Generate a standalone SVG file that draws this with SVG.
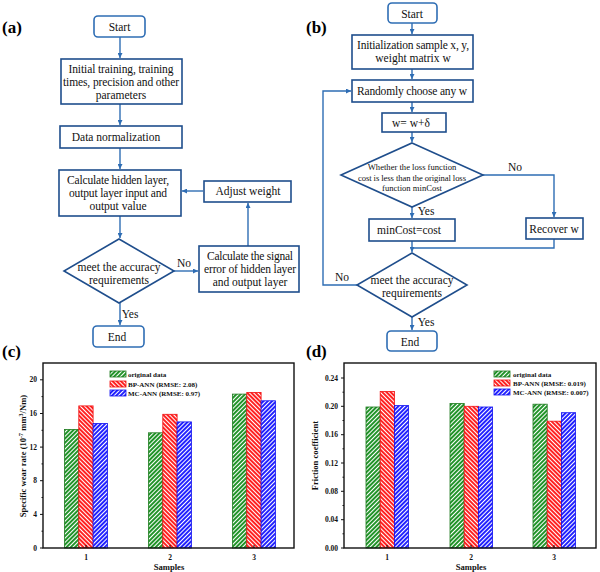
<svg xmlns="http://www.w3.org/2000/svg" width="600" height="572" viewBox="0 0 600 572">
<style>
.t{font-family:"Liberation Serif","Times New Roman",serif;font-size:11.5px;fill:#111;text-anchor:middle}
.ts{font-family:"Liberation Serif","Times New Roman",serif;font-size:8.6px;fill:#111;text-anchor:middle}
.lab{font-family:"Liberation Serif","Times New Roman",serif;font-size:17px;font-weight:bold;fill:#000}
.box{fill:#fff;stroke:#1f4e8c;stroke-width:1.6}
.rbox{fill:#fff;stroke:#2e6db4;stroke-width:1.6}
.con{fill:none;stroke:#2e6db4;stroke-width:1.4}
.ax{font-family:"Liberation Serif","Times New Roman",serif;font-size:7.5px;font-weight:bold;fill:#111}
.axr{text-anchor:end}
.axm{text-anchor:middle}
.frame{fill:none;stroke:#111;stroke-width:1.4}
.tick{stroke:#111;stroke-width:1}
.leg{font-family:"Liberation Serif","Times New Roman",serif;font-size:7px;font-weight:bold;fill:#111}
.axt{font-family:"Liberation Serif","Times New Roman",serif;font-size:8.6px;font-weight:bold;fill:#111;text-anchor:middle}
.g{fill:url(#pg);stroke:#1e7a1e;stroke-width:0.8}
.r{fill:url(#pr);stroke:#f01010;stroke-width:0.8}
.b{fill:url(#pb);stroke:#1010f0;stroke-width:0.8}
</style>
<defs>
<marker id="ah" viewBox="0 0 10 10" refX="10" refY="5" markerWidth="5" markerHeight="5" orient="auto" markerUnits="userSpaceOnUse">
<path d="M0,0 L10,5 L0,10 z" fill="#2e6db4"/>
</marker>
<pattern id="pg" patternUnits="userSpaceOnUse" width="3" height="3" patternTransform="rotate(45)">
<rect width="3" height="3" fill="#22942a"/><rect width="1" height="3" fill="#fff"/>
</pattern>
<pattern id="pr" patternUnits="userSpaceOnUse" width="3" height="3" patternTransform="rotate(-45)">
<rect width="3" height="3" fill="#ff2222"/><rect width="1" height="3" fill="#fff"/>
</pattern>
<pattern id="pb" patternUnits="userSpaceOnUse" width="3" height="3" patternTransform="rotate(45)">
<rect width="3" height="3" fill="#2222ff"/><rect width="1" height="3" fill="#fff"/>
</pattern>
</defs>
<rect width="600" height="572" fill="#fff"/>

<!-- panel labels -->
<text class="lab" x="2" y="33">(a)</text>
<text class="lab" x="306" y="33">(b)</text>
<text class="lab" x="2" y="357">(c)</text>
<text class="lab" x="306" y="357">(d)</text>

<!-- ===== (a) flowchart ===== -->
<g id="a-connectors">
<line class="con" x1="120" y1="37" x2="120" y2="58" marker-end="url(#ah)"/>
<line class="con" x1="120" y1="104" x2="120" y2="125" marker-end="url(#ah)"/>
<line class="con" x1="120" y1="148" x2="120" y2="169" marker-end="url(#ah)"/>
<line class="con" x1="120" y1="216" x2="120" y2="238" marker-end="url(#ah)"/>
<line class="con" x1="174" y1="271" x2="198" y2="271" marker-end="url(#ah)"/>
<line class="con" x1="248" y1="246" x2="248" y2="203" marker-end="url(#ah)"/>
<line class="con" x1="203" y1="191" x2="182" y2="191" marker-end="url(#ah)"/>
<line class="con" x1="120" y1="303" x2="120" y2="325" marker-end="url(#ah)"/>
<text class="t" x="184" y="267">No</text>
<text class="t" x="130" y="318">Yes</text>
</g>
<g id="a-start"><rect class="rbox" x="94" y="16" width="51" height="21" rx="4"/><text class="t" x="119.5" y="31">Start</text></g>
<g id="a-init"><rect class="box" x="61" y="59" width="121" height="45"/>
<text class="t" x="121" y="73" textLength="105">Initial training, training</text>
<text class="t" x="121" y="86" textLength="116">times, precision and other</text>
<text class="t" x="121" y="99">parameters</text></g>
<g id="a-norm"><rect class="box" x="60" y="126" width="122" height="22"/><text class="t" x="116" y="141">Data normalization</text></g>
<g id="a-calc"><rect class="box" x="59" y="170" width="122" height="46"/>
<text class="t" x="118" y="184" textLength="102">Calculate hidden layer,</text>
<text class="t" x="118" y="197" textLength="98">output layer input and</text>
<text class="t" x="118" y="210">output value</text></g>
<g id="a-adjust"><rect class="box" x="204" y="181" width="87" height="21"/><text class="t" x="248" y="195">Adjust weight</text></g>
<g id="a-meet"><polygon class="box" points="119,239 174,271 119,303 64,271"/>
<text class="t" x="119" y="271">meet the accuracy</text>
<text class="t" x="119" y="284">requirements</text></g>
<g id="a-signal"><rect class="box" x="199" y="246" width="100" height="46"/>
<text class="t" x="250" y="260" textLength="86">Calculate the signal</text>
<text class="t" x="250" y="273" textLength="92">error of hidden layer</text>
<text class="t" x="250" y="286">and output layer</text></g>
<g id="a-end"><rect class="rbox" x="93" y="326" width="51" height="21" rx="4"/><text class="t" x="117" y="341">End</text></g>

<!-- ===== (b) flowchart ===== -->
<g id="b-connectors">
<line class="con" x1="412" y1="23" x2="412" y2="34" marker-end="url(#ah)"/>
<line class="con" x1="412" y1="69" x2="412" y2="79" marker-end="url(#ah)"/>
<line class="con" x1="412" y1="102" x2="412" y2="112" marker-end="url(#ah)"/>
<line class="con" x1="412" y1="132" x2="412" y2="142" marker-end="url(#ah)"/>
<polyline class="con" points="483,175 554,175 554,217" marker-end="url(#ah)"/>
<line class="con" x1="412" y1="207" x2="412" y2="218" marker-end="url(#ah)"/>
<line class="con" x1="412" y1="241" x2="412" y2="252" marker-end="url(#ah)"/>
<polyline class="con" points="554,239 554,248 412,248"/>
<polyline class="con" points="358,285 323,285 323,91 351,91" marker-end="url(#ah)"/>
<line class="con" x1="412" y1="317" x2="412" y2="330" marker-end="url(#ah)"/>
<text class="t" x="515" y="171">No</text>
<text class="t" x="426" y="215">Yes</text>
<text class="t" x="342" y="281">No</text>
<text class="t" x="426" y="326">Yes</text>
</g>
<g id="b-start"><rect class="rbox" x="388" y="3" width="49" height="20" rx="4"/><text class="t" x="412" y="18">Start</text></g>
<g id="b-init"><rect class="box" x="352" y="35" width="121" height="34"/>
<text class="t" x="413" y="49" textLength="112">Initialization sample x, y,</text>
<text class="t" x="413" y="62">weight matrix w</text></g>
<g id="b-random"><rect class="box" x="352" y="80" width="121" height="22"/><text class="t" x="412" y="95" textLength="110">Randomly choose any w</text></g>
<g id="b-update"><rect class="box" x="382" y="113" width="64" height="19"/><text class="t" x="411" y="127">w= w+δ</text></g>
<g id="b-loss"><polygon class="box" points="412,143 483,175 412,207 341,175"/>
<text class="ts" x="412" y="170">Whether the loss function</text>
<text class="ts" x="412" y="181" textLength="108">cost is less than the original  loss</text>
<text class="ts" x="412" y="191">function  minCost</text></g>
<g id="b-mincost"><rect class="box" x="369" y="219" width="86" height="22"/><text class="t" x="409" y="234">minCost=cost</text></g>
<g id="b-recover"><rect class="box" x="526" y="218" width="57" height="21"/><text class="t" x="554" y="233">Recover w</text></g>
<g id="b-meet"><polygon class="box" points="412,253 467,285 412,317 357,285"/>
<text class="t" x="412" y="284">meet the accuracy</text>
<text class="t" x="412" y="297">requirements</text></g>
<g id="b-end"><rect class="rbox" x="387" y="331" width="50" height="20" rx="4"/><text class="t" x="410" y="346">End</text></g>

<!-- ===== (c) chart ===== -->
<g id="chart-c">
<g id="c-bars">
<rect class="g" x="64.5" y="429.4" width="14.3" height="118.6"/>
<rect class="r" x="78.8" y="405.9" width="14.3" height="142.1"/>
<rect class="b" x="93.1" y="423.5" width="14.3" height="124.5"/>
<rect class="g" x="148.5" y="432.8" width="14.3" height="115.2"/>
<rect class="r" x="162.8" y="414.3" width="14.3" height="133.7"/>
<rect class="b" x="177.1" y="421.9" width="14.3" height="126.1"/>
<rect class="g" x="232.5" y="394.1" width="14.3" height="153.9"/>
<rect class="r" x="246.8" y="392.4" width="14.3" height="155.6"/>
<rect class="b" x="261.1" y="400.8" width="14.3" height="147.2"/>
</g>
<rect class="frame" x="43" y="363" width="251" height="185"/>
<g id="c-ticks">
<path class="tick" d="M40,548H43M40,514.4H43M40,480.7H43M40,447.1H43M40,413.5H43M40,379.8H43M41.5,531.2H43M41.5,497.5H43M41.5,463.9H43M41.5,430.3H43M41.5,396.6H43M86,548V545M170,548V545M254,548V545"/>
<text class="ax axr" x="37" y="550.5">0</text>
<text class="ax axr" x="37" y="517">4</text>
<text class="ax axr" x="37" y="483.2">8</text>
<text class="ax axr" x="37" y="449.6">12</text>
<text class="ax axr" x="37" y="416">16</text>
<text class="ax axr" x="37" y="382.3">20</text>
<text class="ax axm" x="86" y="560">1</text>
<text class="ax axm" x="170" y="560">2</text>
<text class="ax axm" x="254" y="560">3</text>
</g>
<text class="axt" x="169" y="569.5">Samples</text>
<text class="axt" transform="translate(26,456) rotate(-90)">Specific wear rate (10<tspan font-size="6" dy="-3.5">-7</tspan><tspan dy="3.5"> mm</tspan><tspan font-size="6" dy="-3.5">3</tspan><tspan dy="3.5">/Nm)</tspan></text>
<g id="c-legend">
<rect class="g" x="110" y="371" width="16" height="6"/>
<rect class="r" x="110" y="381" width="16" height="6"/>
<rect class="b" x="110" y="390" width="16" height="6"/>
<text class="leg" x="128" y="376.5">original data</text>
<text class="leg" x="128" y="386.5">BP-ANN (RMSE: 2.08)</text>
<text class="leg" x="128" y="395.5">MC-ANN (RMSE: 0.97)</text>
</g>
</g>

<!-- ===== (d) chart ===== -->
<g id="chart-d">
<g id="d-bars">
<rect class="g" x="366" y="407" width="14.2" height="141"/>
<rect class="r" x="380.2" y="391.5" width="14.2" height="156.5"/>
<rect class="b" x="394.4" y="405.6" width="14.2" height="142.4"/>
<rect class="g" x="450" y="403.5" width="14.2" height="144.5"/>
<rect class="r" x="464.2" y="406.3" width="14.2" height="141.7"/>
<rect class="b" x="478.4" y="407" width="14.2" height="141"/>
<rect class="g" x="533" y="404.2" width="14.2" height="143.8"/>
<rect class="r" x="547.2" y="421.2" width="14.2" height="126.8"/>
<rect class="b" x="561.4" y="412.7" width="14.2" height="135.3"/>
</g>
<rect class="frame" x="344" y="363" width="252" height="185"/>
<g id="d-ticks">
<path class="tick" d="M341,548H344M341,519.7H344M341,491.3H344M341,463H344M341,434.7H344M341,406.3H344M341,378H344M342.5,533.8H344M342.5,505.5H344M342.5,477.2H344M342.5,448.8H344M342.5,420.5H344M342.5,392.2H344M387,548V545M471,548V545M554,548V545"/>
<text class="ax axr" x="338" y="550.5">0.00</text>
<text class="ax axr" x="338" y="522.2">0.04</text>
<text class="ax axr" x="338" y="493.8">0.08</text>
<text class="ax axr" x="338" y="465.5">0.12</text>
<text class="ax axr" x="338" y="437.2">0.16</text>
<text class="ax axr" x="338" y="408.8">0.20</text>
<text class="ax axr" x="338" y="380.5">0.24</text>
<text class="ax axm" x="387" y="560">1</text>
<text class="ax axm" x="471" y="560">2</text>
<text class="ax axm" x="554" y="560">3</text>
</g>
<text class="axt" x="471" y="569.5">Samples</text>
<text class="axt" transform="translate(318,455.5) rotate(-90)">Friction coefficient</text>
<g id="d-legend">
<rect class="g" x="494" y="371" width="16" height="6"/>
<rect class="r" x="494" y="380" width="16" height="6"/>
<rect class="b" x="494" y="389" width="16" height="6"/>
<text class="leg" x="513" y="376.5">original data</text>
<text class="leg" x="513" y="385.5">BP-ANN (RMSE: 0.019)</text>
<text class="leg" x="513" y="394.5">MC-ANN (RMSE: 0.007)</text>
</g>
</g>
</svg>
